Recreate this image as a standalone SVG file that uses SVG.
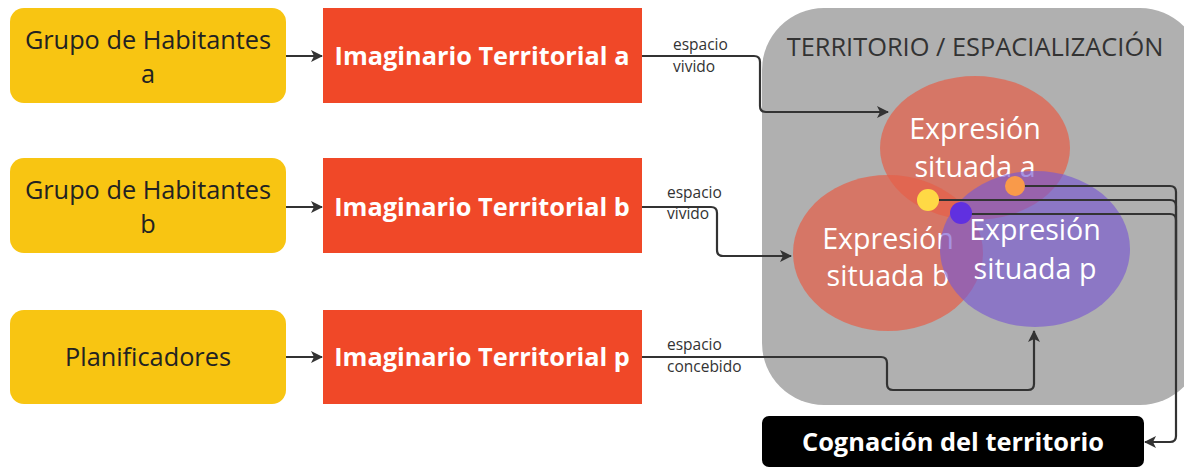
<svg xmlns="http://www.w3.org/2000/svg" width="1184" height="468" viewBox="0 0 1184 468">
<defs>
<style>
.grp rect{fill:#f8c512}
.grp text{font-family:"Open Sans","Noto Sans",sans-serif;font-size:25.3px;fill:#222;text-anchor:middle}
.img rect{fill:#f04828}
.img text{font-family:"Open Sans","Noto Sans",sans-serif;font-size:25.3px;font-weight:bold;fill:#fff;text-anchor:middle}
.conn path{fill:none;stroke:#333;stroke-width:2.2;stroke-linejoin:round}
.lbl{font-family:"Open Sans","Noto Sans",sans-serif;font-size:15.5px;fill:#333}
.expr text{font-family:"Open Sans","Noto Sans",sans-serif;font-size:28.6px;fill:#fff;text-anchor:middle}
</style>
<marker id="arr" viewBox="0 0 12 12" refX="11" refY="6" markerWidth="12" markerHeight="12" markerUnits="userSpaceOnUse" orient="auto">
<path d="M0,0 L12,6 L0,12 L3,6 z" fill="#333"/>
</marker>
</defs>
<rect width="1184" height="468" fill="#fff"/>

<g id="territorio">
<rect x="762" y="8" width="440" height="397" rx="62" fill="#b0b0b0"/>
<text x="975" y="56" font-family="'Open Sans','Noto Sans',sans-serif" font-size="25.4" fill="#333" text-anchor="middle">TERRITORIO / ESPACIALIZACIÓN</text>
</g>

<g id="grupo-a" class="grp"><rect x="10" y="8" width="276" height="95" rx="14"/><text x="148" y="49">Grupo de Habitantes</text><text x="148" y="83">a</text></g>
<g id="grupo-b" class="grp"><rect x="10" y="158" width="276" height="95" rx="14"/><text x="148" y="199">Grupo de Habitantes</text><text x="148" y="233">b</text></g>
<g id="planificadores" class="grp"><rect x="10" y="310" width="276" height="94" rx="14"/><text x="148" y="366">Planificadores</text></g>

<g id="imaginario-a" class="img"><rect x="323" y="8" width="319" height="95"/><text x="482" y="65">Imaginario Territorial a</text></g>
<g id="imaginario-b" class="img"><rect x="323" y="158" width="319" height="95"/><text x="482" y="216">Imaginario Territorial b</text></g>
<g id="imaginario-p" class="img"><rect x="323" y="310" width="319" height="94"/><text x="482" y="366">Imaginario Territorial p</text></g>

<g id="expresion-a" class="expr"><ellipse cx="975" cy="148" rx="95" ry="72" fill="#e4604a" fill-opacity="0.72"/><text x="975" y="139">Expresión</text><text x="975" y="177">situada a</text></g>
<g id="expresion-b" class="expr"><ellipse cx="888" cy="253" rx="95" ry="78" fill="#e4604a" fill-opacity="0.72"/><text x="888" y="249">Expresión</text><text x="888" y="286">situada b</text></g>
<g id="expresion-p" class="expr"><ellipse cx="1035" cy="249" rx="95" ry="78" fill="#7a5ad0" fill-opacity="0.66"/><text x="1035" y="240">Expresión</text><text x="1035" y="279">situada p</text></g>

<g id="cognacion"><rect x="762" y="416" width="382" height="51" rx="7" fill="#000"/><text x="953" y="451" font-family="'Open Sans','Noto Sans',sans-serif" font-size="25.4" font-weight="bold" fill="#fff" text-anchor="middle">Cognación del territorio</text></g>

<g id="connectors" class="conn">
<path d="M286,56 H322" marker-end="url(#arr)"/>
<path d="M286,207 H322" marker-end="url(#arr)"/>
<path d="M286,357 H322" marker-end="url(#arr)"/>
<path d="M642,56 H754 Q760,56 760,62 V106 Q760,112 766,112 H888" marker-end="url(#arr)"/>
<path d="M642,207 H711 Q717,207 717,213 V250 Q717,256 723,256 H791" marker-end="url(#arr)"/>
<path d="M642,357 H881 Q887,357 887,363 V384 Q887,390 893,390 H1028 Q1034,390 1034,384 V331" marker-end="url(#arr)"/>
<path d="M1015,186 H1170 Q1176,186 1176,192 V436 Q1176,442 1170,442 H1145" marker-end="url(#arr)"/>
<path d="M928,200 H1170 Q1176,200 1176,206 V300"/>
<path d="M961,214 H1170 Q1176,214 1176,220 V300"/>
</g>
<g id="labels">
<text class="lbl" x="673" y="50">espacio</text><text class="lbl" x="673" y="72">vivido</text>
<text class="lbl" x="667" y="198">espacio</text><text class="lbl" x="667" y="219">vivido</text>
<text class="lbl" x="667" y="350">espacio</text><text class="lbl" x="667" y="372">concebido</text>
</g>
<g id="dots">
<circle cx="1015" cy="186" r="10" fill="#f99a4a"/>
<circle cx="928" cy="200" r="11" fill="#ffd945"/>
<circle cx="961" cy="213" r="11" fill="#6030e0"/>
</g>
</svg>
